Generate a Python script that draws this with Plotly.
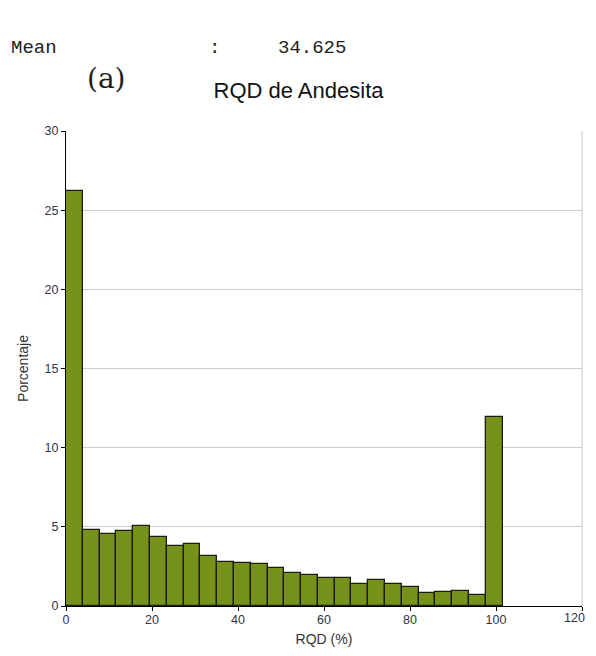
import plotly.graph_objects as go

# ---- data ----
rqd_bin_start = 0.0
rqd_bin_width = 3.905
porcentaje = [26.2, 4.77, 4.52, 4.73, 5.06, 4.37, 3.80, 3.93, 3.13, 2.75,
              2.71, 2.64, 2.39, 2.10, 1.93, 1.78, 1.78, 1.42, 1.67, 1.42,
              1.21, 0.79, 0.88, 0.96, 0.71, 11.93]
x_ticks = [0, 20, 40, 60, 80, 100, 120]
y_ticks = [0, 5, 10, 15, 20, 25, 30]
title_text = "RQD de Andesita"
mean_label = "Mean"
mean_value = "34.625"

centers = [rqd_bin_start + (i + 0.5) * rqd_bin_width for i in range(len(porcentaje))]

OFF = 8  # page body margin
W, H = 596 - OFF, 656 - 2 * OFF
L, T = 66 - OFF, 131 - OFF
R = W - (581.7 - OFF)
B = H - (606 - OFF)
pw, ph = W - L - R, H - T - B


def px_x(p):  # page pixel -> paper fraction
    return (p - OFF - L) / pw


def px_y(p):
    return 1 - (p - OFF - T) / ph


# last x tick label is drawn as an annotation so it stays inside the visible page
x_ticktext = [str(v) for v in x_ticks[:-1]] + [""]

fig = go.Figure(go.Bar(
    x=centers, y=porcentaje, width=rqd_bin_width,
    marker=dict(color="#77921a", line=dict(color="#1c1c0c", width=1.3)),
    hoverinfo="x+y",
))

fig.update_layout(
    width=W, height=H,
    margin=dict(l=L, r=R, t=T, b=B, autoexpand=False),
    paper_bgcolor="white", plot_bgcolor="white",
    showlegend=False,
    font=dict(family="Liberation Sans, Arial, sans-serif", color="#333333", size=12),
    title=dict(text=title_text, x=(298.5 - OFF) / W, xanchor="center", xref="container",
               yref="container", y=1 - (90 - OFF) / H, yanchor="middle",
               font=dict(size=22, color="#111111", family="Liberation Sans, Arial, sans-serif")),
    bargap=0,
)

fig.update_xaxes(range=[0, 120], tickvals=x_ticks, ticktext=x_ticktext,
                 showgrid=False, zeroline=False,
                 showline=True, linecolor="black", linewidth=1,
                 ticks="outside", ticklen=4, tickcolor="black", ticklabelstandoff=-2,
                 tickfont=dict(size=12.5, color="#333344"),
                 title=dict(text="RQD (%)", font=dict(size=14, color="#333333"), standoff=8))
fig.update_yaxes(range=[0, 30], tickvals=y_ticks, showgrid=True, gridcolor="#cccccc", gridwidth=1,
                 zeroline=False, showline=True, linecolor="black", linewidth=1,
                 ticks="outside", ticklen=4, tickcolor="black",
                 tickfont=dict(size=12.5, color="#333344"),
                 title=dict(text="Porcentaje", font=dict(size=14, color="#333333"), standoff=12))

fig.add_annotation(text=str(x_ticks[-1]), xref="paper", yref="paper", x=px_x(587), y=px_y(618),
                   xanchor="right", yanchor="middle", showarrow=False,
                   font=dict(size=12.5, color="#333344"))

# right border (light gray)
fig.add_shape(type="line", xref="x domain", yref="y domain", x0=1, x1=1, y0=0, y1=1,
              line=dict(color="#c8c8c8", width=1))

mono = "Liberation Mono, Courier New, monospace"
fig.add_annotation(text=mean_label, xref="paper", yref="paper", x=px_x(9), y=px_y(48),
                   xanchor="left", yanchor="middle", showarrow=False,
                   font=dict(family=mono, size=19, color="#222222"))
fig.add_annotation(text=":", xref="paper", yref="paper", x=px_x(214.5), y=px_y(48),
                   xanchor="center", yanchor="middle", showarrow=False,
                   font=dict(family=mono, size=19, color="#222222"))
fig.add_annotation(text=mean_value, xref="paper", yref="paper", x=px_x(276), y=px_y(48),
                   xanchor="left", yanchor="middle", showarrow=False,
                   font=dict(family=mono, size=19, color="#222222"))
fig.add_annotation(text="(a)", xref="paper", yref="paper", x=px_x(106.5), y=px_y(79),
                   xanchor="center", yanchor="middle", showarrow=False,
                   font=dict(family="DejaVu Serif, Liberation Serif, serif", size=28, color="#1e1e1e"))

fig.write_html("out.html")
